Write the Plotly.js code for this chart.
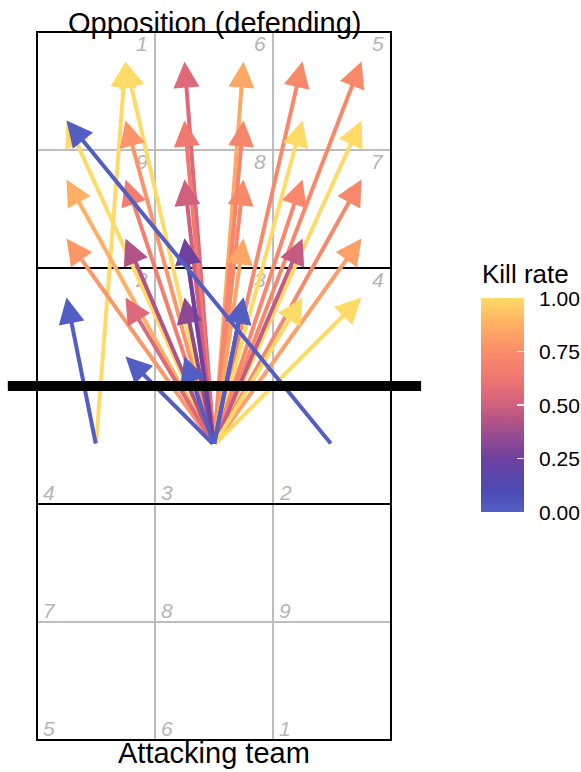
<!DOCTYPE html>
<html>
<head>
<meta charset="utf-8">
<script src="https://cdn.plot.ly/plotly-3.0.1.min.js"></script>
<style>html,body{margin:0;padding:0;background:#fff;}#chart{width:581px;height:772px;}</style>
</head>
<body>
<div id="chart"></div>
<script>
// ---- data ----
// attack start positions (court units: x 0..3 across, y 0..6, net at y=3)
var startX = [0.5, 1.5, 1.5, 1.5, 1.5, 1.5, 1.5, 1.5, 1.5, 1.5, 1.5, 1.5, 1.5, 1.5, 1.5, 1.5, 1.5, 1.5, 1.5, 1.5, 1.5, 1.5, 1.5, 1.5, 1.5, 1.5, 1.5, 1.5, 1.5, 1.5, 0.5, 2.5, 1.5, 1.5, 1.5];
var startY = [2.5, 2.5, 2.5, 2.5, 2.5, 2.5, 2.5, 2.5, 2.5, 2.5, 2.5, 2.5, 2.5, 2.5, 2.5, 2.5, 2.5, 2.5, 2.5, 2.5, 2.5, 2.5, 2.5, 2.5, 2.5, 2.5, 2.5, 2.5, 2.5, 2.5, 2.5, 2.5, 2.5, 2.5, 2.5];
var endX   = [0.75, 0.75, 1.25, 1.75, 2.25, 2.75, 0.25, 0.75, 1.25, 1.75, 2.25, 2.75, 0.25, 0.75, 1.25, 1.75, 2.25, 2.75, 0.25, 0.75, 1.25, 1.75, 2.25, 2.75, 0.75, 1.25, 2.25, 2.75, 1.25, 1.75, 0.25, 0.25, 1.75, 0.75, 1.25];
var endY   = [5.75, 5.75, 5.75, 5.75, 5.75, 5.75, 5.25, 5.25, 5.25, 5.25, 5.25, 5.25, 4.75, 4.75, 4.75, 4.75, 4.75, 4.75, 4.25, 4.25, 4.25, 4.25, 4.25, 4.25, 3.75, 3.75, 3.75, 3.75, 4.25, 3.75, 3.75, 5.25, 3.75, 3.25, 3.25];
var killRate = [1.0, 1.0, 0.55, 0.85, 0.73, 0.73, 1.0, 0.78, 0.65, 0.71, 1.0, 1.0, 0.88, 0.67, 0.5, 0.73, 0.72, 0.72, 0.79, 0.42, 0.45, 0.84, 0.47, 0.82, 0.55, 0.33, 1.0, 1.0, 0.25, 0.05, 0.0, 0.0, 0.0, 0.0, 0.0];

var oppZoneLabels = ["1", "6", "5", "9", "8", "7", "2", "3", "4"];
var ownZoneLabels = ["4", "3", "2", "7", "8", "9", "5", "6", "1"];
var cbTickVals = [0, 0.25, 0.5, 0.75, 1];
var cbTickText = ["0.00", "0.25", "0.50", "0.75", "1.00"];

var colorscale = [
  [0, '#535EC4'], [0.1, '#4B4BB3'], [0.25, '#6E40A0'], [0.4, '#A8508A'],
  [0.5, '#D0607E'], [0.62, '#EE7572'], [0.75, '#FB8C6A'], [0.88, '#FFB064'], [1, '#FFDA66']
];

function hex2rgb(h){ return [parseInt(h.substr(1,2),16), parseInt(h.substr(3,2),16), parseInt(h.substr(5,2),16)]; }
function colorAt(v){
  for (var i = 1; i < colorscale.length; i++) {
    if (v <= colorscale[i][0]) {
      var a = colorscale[i-1], b = colorscale[i];
      var t = (v - a[0]) / (b[0] - a[0]);
      var ca = hex2rgb(a[1]), cb = hex2rgb(b[1]);
      return 'rgb(' + [0,1,2].map(function(k){ return Math.round(ca[k] + (cb[k]-ca[k])*t); }).join(',') + ')';
    }
  }
  return colorscale[colorscale.length-1][1];
}

var FONT = 'Liberation Sans, Arial, Helvetica, sans-serif';
var W = 581, H = 772;

// ---- court shapes ----
var shapes = [];
var gray = '#BDBDBD';
[1, 2].forEach(function(x){ shapes.push({type:'line', xref:'x', yref:'y', x0:x, x1:x, y0:0, y1:6, line:{color:gray, width:2}}); });
[1, 5].forEach(function(y){ shapes.push({type:'line', xref:'x', yref:'y', x0:0, x1:3, y0:y, y1:y, line:{color:gray, width:2}}); });
[2, 4].forEach(function(y){ shapes.push({type:'line', xref:'x', yref:'y', x0:0, x1:3, y0:y, y1:y, line:{color:'black', width:2}}); });
shapes.push({type:'rect', xref:'x', yref:'y', x0:0, x1:3, y0:0, y1:6, line:{color:'black', width:2}});

// colorbar left-side white ticks
var cbTop = 298, cbBot = 512, cbLeft = 481;
cbTickVals.forEach(function(v){
  var py = cbBot - v*(cbBot-cbTop);
  shapes.push({type:'line', xref:'paper', yref:'paper', x0:cbLeft/W, x1:(cbLeft+7)/W, y0:1-py/H, y1:1-py/H, line:{color:'rgba(255,255,255,0.85)', width:1.5}});
});

// ---- annotations ----
var ann = [];
// zone labels
for (var i = 0; i < 9; i++) {
  var col = i % 3, row = Math.floor(i / 3);
  ann.push({x: col + 0.955, y: 5.905 - row, xref:'x', yref:'y', text:'<i>' + oppZoneLabels[i] + '</i>', showarrow:false,
            xanchor:'right', yanchor:'middle', font:{family:FONT, size:21, color:'#B5B5B5'}});
  ann.push({x: col + 0.03, y: 2.095 - row, xref:'x', yref:'y', text:'<i>' + ownZoneLabels[i] + '</i>', showarrow:false,
            xanchor:'left', yanchor:'middle', font:{family:FONT, size:21, color:'#B5B5B5'}});
}
// arrows
for (var k = 0; k < endX.length; k++) {
  ann.push({x: endX[k], y: endY[k], ax: startX[k], ay: startY[k], xref:'x', yref:'y', axref:'x', ayref:'y',
            text:'', showarrow:true, arrowhead:2, arrowsize:1.3, arrowwidth:4, standoff:0, startstandoff:0,
            arrowcolor: colorAt(killRate[k])});
}
// net
ann.push({x: 3.255, y: 3, ax: -0.26, ay: 3, xref:'x', yref:'y', axref:'x', ayref:'y', text:'', showarrow:true,
          arrowhead:0, arrowwidth:10, arrowcolor:'black', standoff:0, startstandoff:0});
// titles
ann.push({x:1.5, y:6.075, xref:'x', yref:'y', text:'Opposition (defending)', showarrow:false, xanchor:'center', yanchor:'middle',
          font:{family:FONT, size:29, color:'black'}});
ann.push({x:1.5, y:-0.11, xref:'x', yref:'y', text:'Attacking team', showarrow:false, xanchor:'center', yanchor:'middle',
          font:{family:FONT, size:29, color:'black'}});
ann.push({x:480/W, y:1-274/H, xref:'paper', yref:'paper', text:'Kill rate', showarrow:false, xanchor:'left', yanchor:'middle',
          font:{family:FONT, size:26, color:'black'}});
// colorbar tick labels
cbTickVals.forEach(function(v, j){
  var py = cbBot - v*(cbBot-cbTop);
  ann.push({x:537/W, y:1-py/H, xref:'paper', yref:'paper', text:cbTickText[j], showarrow:false, xanchor:'left', yanchor:'middle',
            font:{family:FONT, size:21, color:'black'}});
});

var trace = {
  type:'scatter', mode:'markers', x:[100], y:[100], hoverinfo:'skip', showlegend:false,
  marker:{color:[0], cmin:0, cmax:1, colorscale:colorscale, showscale:true, size:1,
    colorbar:{x:cbLeft/W, xanchor:'left', xpad:0, ypad:0, y:1-cbTop/H, yanchor:'top', len:(cbBot-cbTop)/H, lenmode:'fraction',
      thickness:43, thicknessmode:'pixels', outlinewidth:0, tickvals:cbTickVals, showticklabels:false,
      ticks:'inside', ticklen:7, tickcolor:'rgba(255,255,255,0.85)', tickwidth:1.5}}
};

var layout = {
  width:W, height:H, margin:{l:0, r:0, t:0, b:0}, paper_bgcolor:'white', plot_bgcolor:'white',
  xaxis:{range:[-37/118, (W-37)/118], visible:false, fixedrange:true},
  yaxis:{range:[(740-H)/118, 740/118], visible:false, fixedrange:true},
  shapes:shapes, annotations:ann, showlegend:false
};

Plotly.newPlot('chart', [trace], layout, {staticPlot:true, displayModeBar:false});
</script>
</body>
</html>
